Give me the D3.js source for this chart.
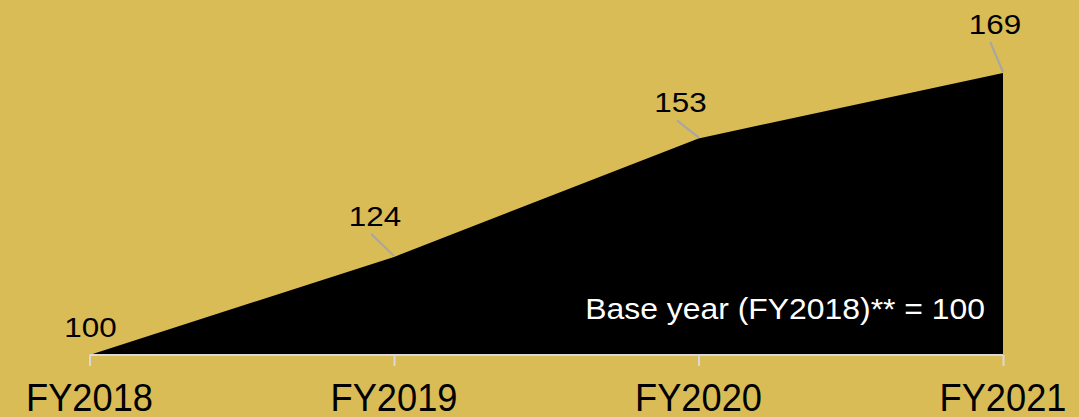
<!DOCTYPE html>
<html>
<head>
<meta charset="utf-8">
<script src="https://cdn.jsdelivr.net/npm/d3@7"></script>
<style>
  html, body { margin: 0; padding: 0; background: #D9BC55; }
  svg { display: block; font-family: "Liberation Sans", Arial, sans-serif; }
</style>
</head>
<body>
<div id="chart"></div>
<script>
// chart data
var years = ["FY2018", "FY2019", "FY2020", "FY2021"];
var indexValues = [100, 124, 153, 169];
var noteText = "Base year (FY2018)** = 100";

var svgWidth = 1079;
var svgHeight = 417;

var svg = d3.select("#chart")
  .append("svg")
  .attr("width", svgWidth)
  .attr("height", svgHeight);

svg.append("rect")
  .attr("width", svgWidth)
  .attr("height", svgHeight)
  .attr("fill", "#D9BC55");

var baseY = 355;

var x = d3.scalePoint()
  .domain(years)
  .range([89.5, 1003]);

var y = d3.scaleLinear()
  .domain([100, 169])
  .range([baseY, 73]);

var data = years.map(function(yr, i) { return { year: yr, value: indexValues[i] }; });

// area
var area = d3.area()
  .x(d => x(d.year))
  .y0(baseY)
  .y1(d => y(d.value));

svg.append("path")
  .datum(data)
  .attr("d", area)
  .attr("fill", "#000");

// axis
var axis = d3.axisBottom(x).tickSize(11).tickFormat("");
var axisG = svg.append("g")
  .attr("transform", `translate(0, ${baseY})`)
  .call(axis);
axisG.select(".domain")
  .attr("stroke", "#D9D9D9")
  .attr("stroke-width", 2)
  .attr("d", `M${x(years[0])},0H${x(years[3])}`);
axisG.selectAll(".tick line")
  .attr("stroke", "#D9D9D9")
  .attr("stroke-width", 2);

// category labels
svg.selectAll(".cat")
  .data(years)
  .enter()
  .append("text")
  .attr("class", "cat")
  .attr("transform", d => `translate(${x(d)}, 411) scale(0.98, 1.04)`)
  .attr("text-anchor", "middle")
  .style("font-size", "37px")
  .attr("fill", "#000")
  .text(d => d);

// data labels with leader lines (offsets from the point)
var labelOffsets = [
  { dx: 1, dy: -18, line: false },
  { dx: -19, dy: -31, line: true },
  { dx: -18, dy: -26, line: true },
  { dx: -8, dy: -39, line: true }
];

data.forEach(function(d, i) {
  var px = x(d.year), py = y(d.value);
  var o = labelOffsets[i];
  if (o.line) {
    var lx = px + o.dx * (i === 3 ? 1.6 : 1.2);
    svg.append("line")
      .attr("x1", lx)
      .attr("y1", py + o.dy + 8)
      .attr("x2", px)
      .attr("y2", py - 1)
      .attr("stroke", "#A6A6A6")
      .attr("stroke-width", 2);
  }
  svg.append("text")
    .attr("transform", `translate(${px + o.dx}, ${py + o.dy}) scale(1.1, 1)`)
    .attr("text-anchor", "middle")
    .style("font-size", "28.5px")
    .attr("fill", "#000")
    .text(d.value);
});

// note
svg.append("text")
  .attr("transform", "translate(985, 319) scale(1.1, 1)")
  .attr("text-anchor", "end")
  .style("font-size", "29px")
  .attr("fill", "#fff")
  .text(noteText);
</script>
</body>
</html>
